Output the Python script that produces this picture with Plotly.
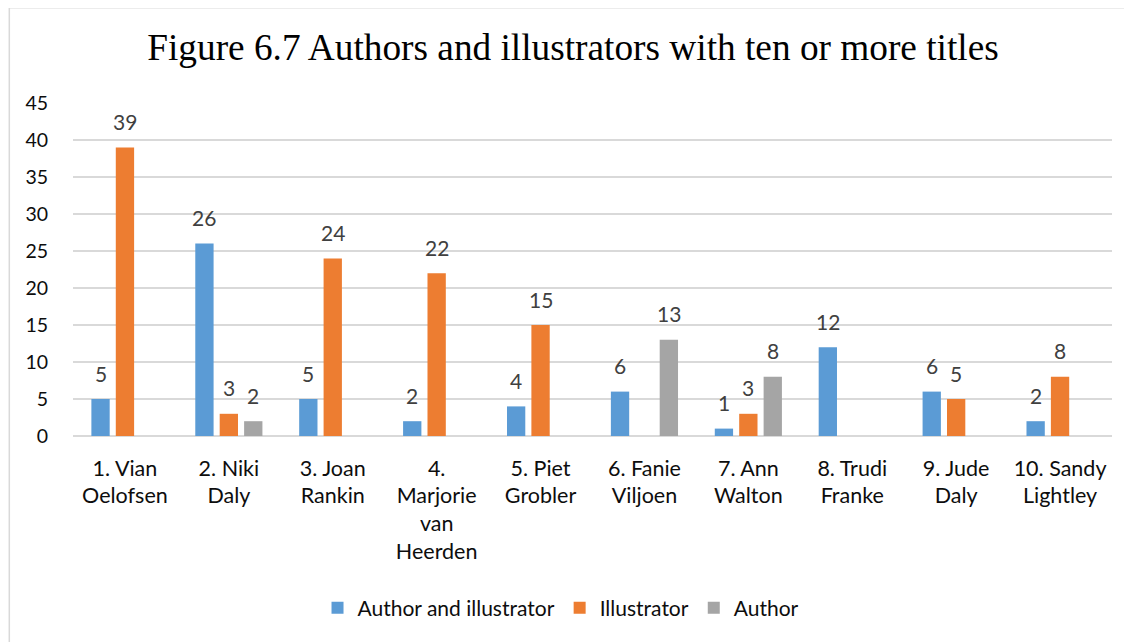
import plotly.graph_objects as go

categories = ["1. Vian<br>Oelofsen", "2. Niki<br>Daly", "3. Joan<br>Rankin",
              "4.<br>Marjorie<br>van<br>Heerden", "5. Piet<br>Grobler", "6. Fanie<br>Viljoen",
              "7. Ann<br>Walton", "8. Trudi<br>Franke", "9. Jude<br>Daly", "10. Sandy<br>Lightley"]
author_and_illustrator = [5, 26, 5, 2, 4, 6, 1, 12, 6, 2]
illustrator = [39, 3, 24, 22, 15, None, 3, None, 5, 8]
author = [None, 2, None, None, None, 13, 8, None, None, None]
series_names = ["Author and illustrator", "Illustrator", "Author"]
y_ticks = [0, 5, 10, 15, 20, 25, 30, 35, 40, 45]

colors = ["#5B9BD5", "#ED7D31", "#A5A5A5"]
series = [author_and_illustrator, illustrator, author]
FONT = "Lato, 'Open Sans', sans-serif"
BARGAP = 0.295
BARGROUPGAP = 0.25

# page has an 8px body margin, so the figure is drawn 8px smaller and offset
W, H = 1124, 634
L, T, PW, PH = 64.5, 95, 1040, 333

x = list(range(len(categories)))
fig = go.Figure()
for name, vals, col in zip(series_names, series, colors):
    fig.add_trace(go.Bar(x=x, y=vals, name=name, marker=dict(color=col, line=dict(width=0))))

slot = (1 - BARGAP) / len(series)
annotations = []
for k, vals in enumerate(series):
    off = -(1 - BARGAP) / 2 + slot * (k + 0.5)
    for i, v in enumerate(vals):
        if v:
            annotations.append(dict(x=i + off, y=v, text=str(v), showarrow=False,
                                    xref="x", yref="y", yanchor="middle", yshift=26,
                                    font=dict(family=FONT, size=21, color="#404040")))

fig.update_layout(
    width=W, height=H,
    paper_bgcolor="white", plot_bgcolor="white",
    margin=dict(l=L, r=W - L - PW, t=T, b=H - T - PH, pad=0),
    barmode="group", bargap=BARGAP, bargroupgap=BARGROUPGAP,
    title=dict(text="Figure 6.7 Authors and illustrators with ten or more titles",
               x=565 / W, xanchor="center", y=1 - 39 / H, yanchor="middle",
               font=dict(family="'Liberation Serif', 'Times New Roman', serif", size=37.3, color="black")),
    legend=dict(orientation="h", x=0.4697, xanchor="center", y=(T + PH - 600) / PH, yanchor="middle",
                font=dict(family=FONT, size=21, color="#0d0d0d"), itemclick=False),
    annotations=annotations,
    xaxis=dict(tickmode="array", tickvals=x, ticktext=categories, range=[-0.5, len(categories) - 0.5],
               showgrid=False, zeroline=False, showline=False, ticks="",
               tickfont=dict(family=FONT, size=21.5, color="#0d0d0d"), ticklabelstandoff=17, fixedrange=True),
    yaxis=dict(range=[0, 45], tickvals=y_ticks, showgrid=True, gridcolor="#d9d9d9", gridwidth=1.5,
               zeroline=True, zerolinecolor="#d9d9d9", zerolinewidth=1.5, showline=False, ticks="",
               tickfont=dict(family=FONT, size=19.5, color="#0d0d0d"), ticklabelstandoff=24, fixedrange=True),
    shapes=[dict(type="rect", xref="paper", yref="paper",
                 x0=(0.75 - L) / PW, x1=(1300 - L) / PW,
                 y0=(T + PH - 800) / PH, y1=(T + PH + 0.25) / PH,
                 line=dict(color="#d9d9d9", width=1.5), fillcolor="rgba(0,0,0,0)", layer="below")],
)

fig.write_html("out.html")
